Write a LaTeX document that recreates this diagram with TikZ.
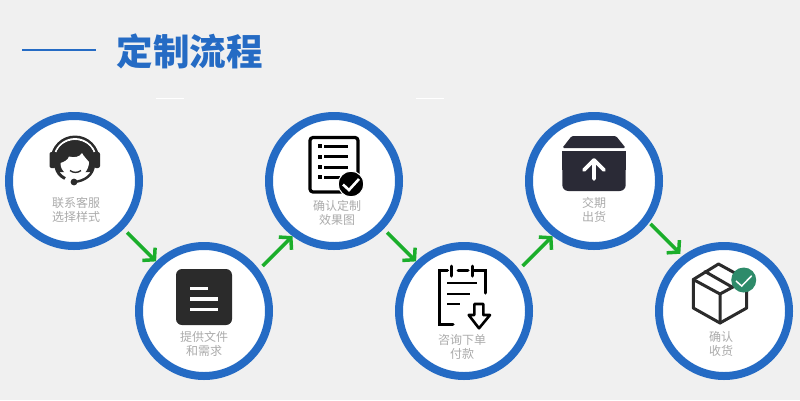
\documentclass[tikz,border=0pt]{standalone}
\usepackage{fontspec}
\usetikzlibrary{arrows.meta, positioning}
\newfontfamily\cjkfont{Noto Sans CJK SC}
\definecolor{pageBg}{HTML}{F0F0F0}
\definecolor{ringBlue}{HTML}{256BC4}
\definecolor{flowGreen}{HTML}{1BAE2B}
\definecolor{labelGrey}{HTML}{ABABAB}
\definecolor{iconDark}{HTML}{2B2B2B}
\definecolor{iconNavy}{HTML}{2A2A36}
\definecolor{okGreen}{HTML}{2E8B6A}

\begin{document}
\begin{tikzpicture}[
    x=1pt, y=-1pt,
    font=\cjkfont,
    stepring/.style={
        circle, draw=ringBlue, fill=white, line width=8pt,
        minimum size=130pt, inner sep=0pt
    },
    steplabel/.style={
        align=center, inner sep=0pt, text=labelGrey,
        font=\cjkfont\fontsize{12}{14}\selectfont
    },
    flowarrow/.style={
        -{Straight Barb[length=8pt,width=18pt,line width=3.5pt]},
        flowGreen, line width=3.5pt
    },
    iconline/.style={black, line width=3pt},
    boxline/.style={iconDark, line width=3pt, line join=round, line cap=round},
]
\useasboundingbox (0,0) rectangle (800,400);
\fill[pageBg] (0,0) rectangle (800,400);
\fill[white] (156,98) rectangle (184,99);
\fill[white] (416,98) rectangle (444,99);

% ============================================================
%  TITLE
% ============================================================
\node[text=ringBlue, inner sep=0pt, font=\cjkfont\bfseries\fontsize{36.5}{36.5}\selectfont]
    (title) at (189.5,51) {定制流程};
\coordinate (ruleEnd) at (96,50);
\draw[ringBlue, line width=2.6pt] (22,50) -- (ruleEnd);

% ============================================================
%  STEP RINGS
% ============================================================
\node[stepring] (step1) at (74,181) {};
\node[stepring] (step2) at (204,311) {};
\node[stepring] (step3) at (334,181) {};
\node[stepring] (step4) at (464,311) {};
\node[stepring] (step5) at (594,181) {};
\node[stepring] (step6) at (724,311) {};

\node[steplabel, below=16.5pt of step1.center, xshift=2pt] (label1) {联系客服\\选择样式};
\node[steplabel, below=20.5pt of step2.center] (label2) {提供文件\\和需求};
\node[steplabel, below=19.5pt of step3.center, xshift=3pt] (label3) {确认定制\\效果图};
\node[steplabel, below=23.5pt of step4.center, xshift=-2pt] (label4) {咨询下单\\付款};
\node[steplabel, below=16.5pt of step5.center] (label5) {交期\\出货};
\node[steplabel, below=20.5pt of step6.center, xshift=-3pt] (label6) {确认\\收货};

% ============================================================
%  CONNECTORS
% ============================================================
\draw[flowarrow, shorten <=5pt] (step1.-44) -- (step2.134);
\draw[flowarrow, shorten <=5pt] (step2.37) -- (step3.233);
\draw[flowarrow, shorten <=5pt] (step3.-44) -- (step4.134);
\draw[flowarrow, shorten <=5pt] (step4.37) -- (step5.233);
\draw[flowarrow, shorten <=2pt, shorten >=3pt] (step5.-37) -- (step6.127);

% ============================================================
%  ICON 1: HEADSET
% ============================================================
\fill[iconDark] (50.5,160) arc[start angle=180, end angle=360, radius=24.5] -- cycle;
\fill[iconDark, rounded corners=2pt] (49.5,152) rectangle (56,168);
\fill[iconDark, rounded corners=2pt] (94,152) rectangle (100,168);
\draw[white, line width=1.9pt] (55.6,152) arc[start angle=202.4, end angle=337.6, radius=21];
\fill[iconDark] (55,166) .. controls (53,149) and (63,140.5) .. (75,140.5)
    .. controls (87,140.5) and (97,149) .. (95,166) -- (92,172) -- (58,172) -- cycle;
\fill[white] (60.5,163) .. controls (64,162) and (68,160) .. (69,156.5)
    .. controls (74,158) and (80,157) .. (82,153)
    .. controls (84,157) and (87,159) .. (89,162)
    .. controls (89,171) and (82,177) .. (75,177)
    .. controls (67,177) and (60.5,171) .. (60.5,163) -- cycle;
\draw[iconDark, line width=1.4pt] (70,170.5) .. controls (73,173) and (78,173) .. (81,170.5);
\draw[iconDark, line width=3pt] (56,167) .. controls (57,172) and (60,176) .. (65,178.5);
\draw[iconDark, line width=2.4pt] (94,165) .. controls (93,175) and (85,181) .. (74,182);
\fill[iconDark] (74,182) circle[radius=3.4];

% ============================================================
%  ICON 2: NOTE
% ============================================================
\fill[iconDark, rounded corners=6pt] (176,269) rectangle (232,325);
\fill[white] (190,286.5) rectangle (208,290);
\fill[white] (190,297) rectangle (218,301);
\fill[white] (190,307.5) rectangle (218,311);

% ============================================================
%  ICON 3: CHECKLIST
% ============================================================
\draw[black, line width=3.2pt, rounded corners=3pt] (310,137.5) rectangle (358,192);
\foreach \yy in {146,156.5,167,177} {
    \fill[black] (318,\yy-2) rectangle (322,\yy+2);
}
\foreach \yy in {146,156.5,167} {
    \draw[iconline] (324,\yy) -- (348,\yy);
}
\draw[iconline] (324,177) -- (340,177);
\fill[black, draw=white, line width=1pt] (351,184) circle[radius=12.8];
\draw[white, line width=2.6pt] (343,184.5) -- (349,190) -- (359,179);

% ============================================================
%  ICON 4: ORDER SHEET
% ============================================================
\draw[iconline, line cap=round] (447.5,270) -- (439,270) -- (439,324) -- (453,324);
\draw[iconline, line cap=round] (473,270) -- (485.7,270) -- (485.7,293);
\draw[iconline, line cap=round] (451.7,266) -- (451.7,276);
\draw[iconline, line cap=round] (472.3,266) -- (472.3,276);
\draw[iconline, line cap=round] (458,270) -- (468,270);
\draw[black, line width=2.2pt] (447,283) -- (477,283);
\draw[black, line width=2.2pt] (447,293.7) -- (470,293.7);
\draw[black, line width=2.2pt] (447,303.7) -- (460,303.7);
\draw[black, line width=2.6pt, line join=round]
    (474.3,304) -- (483.3,304) -- (483.3,315) -- (490,315) -- (479,328.3)
    -- (468.7,315) -- (474.3,315) -- cycle;

% ============================================================
%  ICON 5: CARTON
% ============================================================
\fill[iconNavy, rounded corners=1.5pt] (562.3,148) -- (571.7,136) -- (616,136) -- (625.7,148) -- cycle;
\fill[iconNavy, rounded corners=6pt] (562.3,160) rectangle (625.7,191);
\fill[iconNavy] (562.3,151) rectangle (625.7,170);
\draw[white, line width=3.6pt, line cap=round, line join=round]
    (584,170) -- (594,160) -- (604,170) (594,160) -- (594,179);

% ============================================================
%  ICON 6: PARCEL
% ============================================================
\draw[boxline] (718.5,264) -- (693.3,279.5) -- (693.3,308) -- (720,323) -- (746.7,308)
    -- (746.7,279.5) -- cycle;
\draw[boxline] (693.3,279.5) -- (720,294) -- (746.7,279.5) (720,294) -- (720,323);
\draw[boxline] (705,271.5) -- (732,287);
\fill[okGreen] (743.7,280) circle[radius=12.5];
\draw[white, line width=1.5pt] (736,281) -- (741.7,286) -- (751.7,275.7);
\end{tikzpicture}
\end{document}
